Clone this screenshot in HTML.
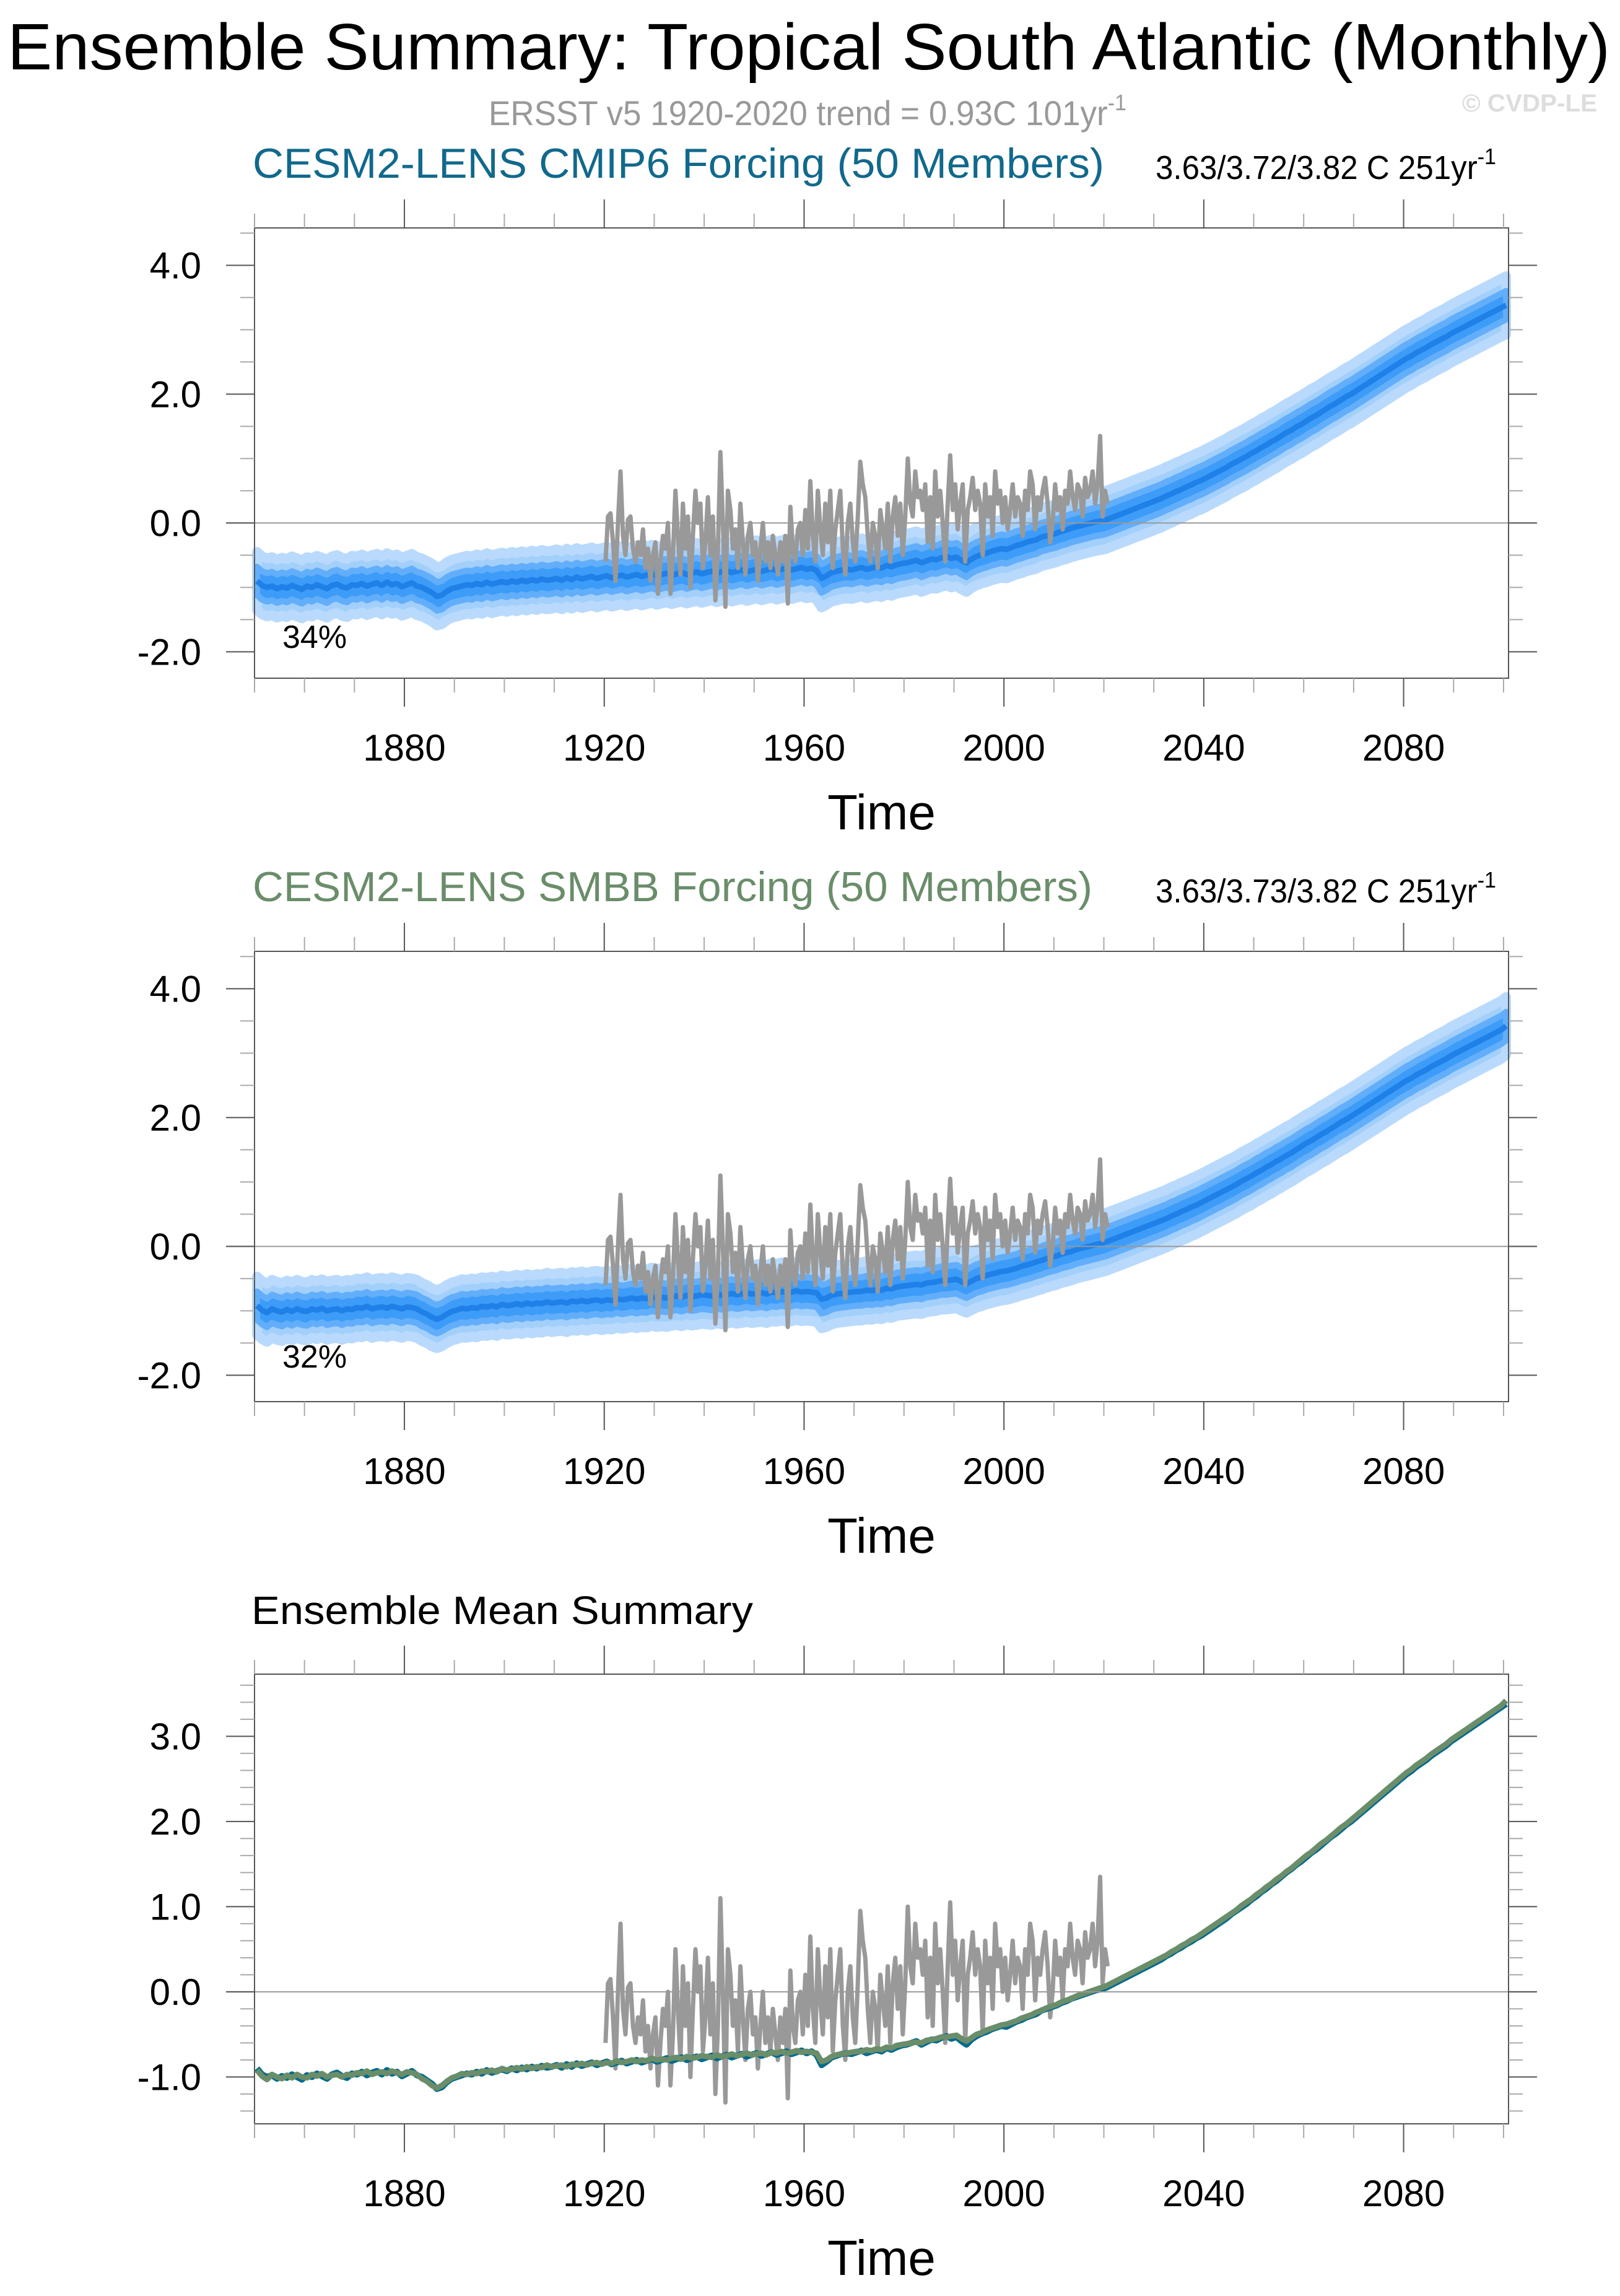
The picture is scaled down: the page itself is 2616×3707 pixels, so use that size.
<!DOCTYPE html>
<html><head><meta charset="utf-8"><style>
html,body{margin:0;padding:0;background:#fff}
svg{display:block}
text{font-family:"Liberation Sans",sans-serif}
</style></head><body>
<svg id="fig" xmlns="http://www.w3.org/2000/svg" width="2616" height="3707" viewBox="0 0 2616 3707">
<rect width="2616" height="3707" fill="#fff"/>
<text x="12" y="112" font-size="106" textLength="2588" lengthAdjust="spacingAndGlyphs">Ensemble Summary: Tropical South Atlantic (Monthly)</text>
<text x="789" y="202" font-size="56" fill="#999" textLength="1030" lengthAdjust="spacingAndGlyphs">ERSST v5 1920-2020 trend = 0.93C 101yr<tspan font-size="36" dy="-24">-1</tspan></text>
<text x="2361" y="180" font-size="40" font-weight="bold" fill="#ddd" textLength="218" lengthAdjust="spacingAndGlyphs">© CVDP-LE</text>
<text x="408" y="287" font-size="68" fill="#11698c" textLength="1375" lengthAdjust="spacingAndGlyphs">CESM2-LENS CMIP6 Forcing (50 Members)</text>
<text x="1866" y="289" font-size="54" textLength="550" lengthAdjust="spacingAndGlyphs">3.63/3.72/3.82 C 251yr<tspan font-size="36" dy="-24">-1</tspan></text>
<text x="408" y="1455" font-size="68" fill="#6a8d6a" textLength="1356" lengthAdjust="spacingAndGlyphs">CESM2-LENS SMBB Forcing (50 Members)</text>
<text x="1866" y="1457" font-size="54" textLength="550" lengthAdjust="spacingAndGlyphs">3.63/3.73/3.82 C 251yr<tspan font-size="36" dy="-24">-1</tspan></text>
<text x="406" y="2622" font-size="64" textLength="810" lengthAdjust="spacingAndGlyphs">Ensemble Mean Summary</text>
<text x="456" y="1046" font-size="52">34%</text>
<text x="456" y="2208" font-size="52">32%</text>
<g id="plots"></g>
</svg>
<script>
const startYear = 1850;
const mean1 = [
-0.90,-0.97,-1.00,-0.98,-1.02,-0.99,-1.01,-0.97,-1.00,-1.03,
-0.98,-1.00,-0.96,-0.99,-1.02,-0.97,-0.95,-0.99,-1.01,-0.96,
-0.97,-0.94,-0.98,-0.95,-0.93,-0.97,-0.92,-0.96,-0.94,-0.99,
-0.96,-0.93,-0.98,-1.00,-1.04,-1.08,-1.14,-1.12,-1.06,-1.02,
-1.00,-0.98,-0.96,-0.97,-0.94,-0.96,-0.92,-0.95,-0.93,-0.91,
-0.93,-0.90,-0.92,-0.89,-0.91,-0.88,-0.90,-0.87,-0.89,-0.88,
-0.86,-0.89,-0.85,-0.88,-0.84,-0.87,-0.85,-0.83,-0.86,-0.84,
-0.82,-0.85,-0.83,-0.81,-0.84,-0.82,-0.80,-0.83,-0.81,-0.79,
-0.82,-0.80,-0.78,-0.81,-0.79,-0.77,-0.80,-0.78,-0.76,-0.79,
-0.77,-0.75,-0.78,-0.76,-0.74,-0.77,-0.75,-0.73,-0.76,-0.74,
-0.72,-0.75,-0.73,-0.71,-0.74,-0.72,-0.70,-0.73,-0.71,-0.69,
-0.72,-0.70,-0.74,-0.86,-0.82,-0.77,-0.75,-0.73,-0.72,-0.73,
-0.71,-0.69,-0.72,-0.70,-0.68,-0.70,-0.66,-0.68,-0.65,-0.63,
-0.62,-0.60,-0.58,-0.62,-0.59,-0.56,-0.57,-0.54,-0.52,-0.55,
-0.53,-0.58,-0.62,-0.56,-0.52,-0.49,-0.47,-0.44,-0.42,-0.40,
-0.41,-0.38,-0.35,-0.33,-0.30,-0.28,-0.26,-0.22,-0.20,-0.18,
-0.16,-0.13,-0.11,-0.08,-0.06,-0.04,-0.02,0.00,0.02,0.03,
0.05,0.08,0.11,0.14,0.17,0.20,0.23,0.26,0.29,0.32,
0.35,0.38,0.42,0.45,0.49,0.52,0.56,0.59,0.63,0.66,
0.70,0.74,0.78,0.82,0.86,0.91,0.95,0.99,1.03,1.08,
1.12,1.17,1.21,1.26,1.30,1.35,1.40,1.44,1.49,1.53,
1.58,1.63,1.67,1.72,1.77,1.82,1.86,1.91,1.96,2.00,
2.05,2.10,2.15,2.20,2.25,2.30,2.35,2.40,2.45,2.50,
2.55,2.59,2.64,2.68,2.72,2.77,2.81,2.85,2.89,2.94,
2.98,3.02,3.06,3.10,3.14,3.18,3.22,3.26,3.30,3.34,
3.38];
const mean2 = [
-0.92,-0.99,-1.03,-0.97,-1.00,-1.02,-0.98,-1.01,-0.97,-1.00,
-1.01,-0.97,-0.99,-0.96,-1.00,-0.98,-0.97,-1.00,-0.97,-0.98,
-0.95,-0.96,-0.93,-0.97,-0.95,-0.94,-0.96,-0.93,-0.95,-0.97,
-0.94,-0.95,-0.97,-1.02,-1.05,-1.10,-1.13,-1.10,-1.05,-1.01,
-0.99,-0.96,-0.97,-0.95,-0.96,-0.93,-0.94,-0.92,-0.94,-0.90,
-0.92,-0.91,-0.89,-0.91,-0.88,-0.90,-0.88,-0.89,-0.86,-0.88,
-0.87,-0.86,-0.88,-0.85,-0.86,-0.84,-0.86,-0.84,-0.83,-0.85,
-0.83,-0.84,-0.81,-0.83,-0.82,-0.80,-0.82,-0.80,-0.81,-0.78,
-0.80,-0.79,-0.80,-0.78,-0.77,-0.79,-0.76,-0.78,-0.77,-0.75,
-0.76,-0.77,-0.74,-0.76,-0.75,-0.73,-0.75,-0.74,-0.72,-0.74,
-0.73,-0.72,-0.74,-0.71,-0.72,-0.70,-0.72,-0.71,-0.69,-0.71,
-0.70,-0.71,-0.72,-0.82,-0.80,-0.76,-0.74,-0.73,-0.72,-0.71,
-0.70,-0.70,-0.68,-0.69,-0.67,-0.68,-0.65,-0.66,-0.63,-0.62,
-0.61,-0.60,-0.59,-0.60,-0.57,-0.56,-0.55,-0.53,-0.53,-0.52,
-0.51,-0.55,-0.58,-0.54,-0.50,-0.48,-0.45,-0.43,-0.41,-0.39,
-0.38,-0.36,-0.34,-0.31,-0.29,-0.27,-0.24,-0.22,-0.19,-0.17,
-0.15,-0.12,-0.10,-0.08,-0.05,-0.03,-0.01,0.01,0.03,0.05,
0.07,0.10,0.13,0.16,0.19,0.22,0.25,0.28,0.31,0.34,
0.37,0.40,0.43,0.47,0.50,0.54,0.57,0.61,0.64,0.68,
0.72,0.76,0.80,0.84,0.88,0.92,0.96,1.01,1.05,1.09,
1.14,1.18,1.23,1.27,1.32,1.36,1.41,1.45,1.50,1.55,
1.60,1.64,1.69,1.74,1.78,1.83,1.88,1.93,1.97,2.02,
2.07,2.12,2.17,2.22,2.27,2.32,2.37,2.42,2.47,2.52,
2.57,2.61,2.66,2.70,2.74,2.79,2.83,2.87,2.91,2.96,
3.00,3.04,3.08,3.12,3.16,3.20,3.24,3.28,3.32,3.36,
3.42];
const obsStart = 1920;
const obs = [
-0.6,0.1, 0.15,-0.3, -0.9,0.0, 0.8,-0.2, -0.5,0.05, 0.1,-0.4, -0.6,-0.3, -0.5,-0.1, -0.7,-0.4, -0.9,-0.5,
-0.3,-1.1, -0.6,-0.2, -0.4,0.0, -1.1,-0.5, 0.5,-0.2, -0.8,0.3, -0.4,0.1, -1.0,-0.2, 0.5,0.0, 0.3,-0.7,
-0.3,0.4, -0.5,0.1, -1.2,-0.4, 1.1,0.0, -1.3,0.5, 0.2,-0.4, -0.1,-0.7, 0.3,-0.3, -0.8,-0.2, 0.0,-0.5,
-0.3,-0.9, -0.4,0.0, -0.6,-0.3, -0.7,-0.2, -0.5,-0.8, -0.3,-0.6, -0.2,-1.25, 0.25,-0.4, -0.6,-0.1, 0.0,-0.5,
0.2,-0.4, 0.65,-0.2, -0.6,0.5, -0.1,-0.5, 0.3,-0.3, 0.5,-0.7, -0.1,0.2, 0.5,-0.4, -0.8,0.0, 0.3,-0.3,
-0.6,0.1, 0.95,0.6, 0.4,-0.2, -0.6,0.0, -0.2,-0.7, 0.2,-0.1, -0.4,0.3, -0.6,0.1, 0.4,-0.2, 0.3,-0.5,
0.1,1.0, 0.3,0.1, 0.8,0.4, 0.5,0.2, 0.6,-0.3, 0.4,-0.4, 0.8,0.1, 0.5,0.0, -0.6,0.3, 1.05,0.2,
0.6,-0.1, 0.3,0.6, -0.6,0.2, 0.4,0.7, 0.2,0.5, 0.3,-0.5, 0.6,0.1, 0.4,-0.2, 0.8,0.3, 0.5,0.0,
0.4,-0.1, 0.2,0.6, 0.1,0.4, 0.3,-0.2, 0.5,0.2, 0.8,0.6, -0.1,0.4, 0.2,0.5, 0.7,0.3, -0.3,0.0,
0.6,0.2, 0.4,-0.1, 0.5,0.3, 0.8,0.4, 0.2,0.6, 0.5,0.1, 0.7,0.4, 0.5,0.8, 0.3,0.6, 1.35,0.1,
0.5,0.3];
const innerSpread = [0.22];
const outerSpread = [0.45];
const xTickYears = [1880,1920,1960,2000,2040,2080];
const yTicksA = [-2,0,2,4];
const yTicksB = [-1,0,1,2,3];

const NS = 'http://www.w3.org/2000/svg';
const root = document.getElementById('plots');
function mk(tag, attrs, parent){ const e=document.createElementNS(NS,tag); for(const k in attrs) e.setAttribute(k,attrs[k]); (parent||root).appendChild(e); return e; }

const X0=411, X1=2436, XMIN=1850, XMAX=2101;
function sx(t){ return X0+(t-XMIN)/(XMAX-XMIN)*(X1-X0); }

function panel(id, top, bottom, ymin, ymax, yTicks, minorStep, draw){
  const g = mk('g',{});
  
  
  const sy = v => bottom-(v-ymin)/(ymax-ymin)*(bottom-top);
  draw(g, sy);
  const z = mk('line',{x1:X0-45,x2:X1+45,y1:sy(0),y2:sy(0),stroke:'#999','stroke-width':2},g);
  
  
  const b = mk('rect',{x:X0,y:top,width:X1-X0,height:bottom-top,fill:'none',stroke:'#555','stroke-width':2},g);
  
  
  for(let yr=1850; yr<=2100; yr+=10){
    const major = xTickYears.includes(yr);
    const L = major?46:23, x=sx(yr);
    mk('line',{x1:x,x2:x,y1:bottom,y2:bottom+L,stroke:major?'#555':'#aaa','stroke-width':2},g);
    mk('line',{x1:x,x2:x,y1:top,y2:top-L,stroke:major?'#555':'#aaa','stroke-width':2},g);
  }
  xTickYears.forEach(yr=>{
    const t = mk('text',{x:sx(yr),y:bottom+133,'font-size':60,'text-anchor':'middle'},g);
    
    
    t.textContent = yr;
  });
  const tt = mk('text',{x:(X0+X1)/2,y:bottom+244,'font-size':80,'text-anchor':'middle'},g);
  
  
  tt.textContent='Time';
  for(let v=Math.ceil(ymin/minorStep)*minorStep; v<=ymax+1e-9; v+=minorStep){
    const vr = Math.round(v*100)/100;
    const major = yTicks.includes(vr);
    const L = major?46:23, y=sy(vr);
    mk('line',{x1:X0,x2:X0-L,y1:y,y2:y,stroke:major?'#555':'#aaa','stroke-width':2},g);
    mk('line',{x1:X1,x2:X1+L,y1:y,y2:y,stroke:major?'#555':'#aaa','stroke-width':2},g);
  }
  yTicks.forEach(v=>{
    const t = mk('text',{x:325,y:sy(v)+21,'font-size':60,'text-anchor':'end'},g);
    
    
    t.textContent = v.toFixed(1);
  });
}

function linePath(arr, t0, step, sy){
  return arr.map((v,i)=>(i?'L':'M')+sx(t0+i*step+step/2).toFixed(1)+','+sy(v).toFixed(1)).join('');
}
function bandPath(arr, w, sy){
  let up = arr.map((v,i)=>(i?'L':'M')+sx(startYear+i+0.5).toFixed(1)+','+sy(v+w).toFixed(1)).join('');
  let dn = arr.map((v,i)=>[i,v]).reverse().map(([i,v])=>'L'+sx(startYear+i+0.5).toFixed(1)+','+sy(v-w).toFixed(1)).join('');
  return up+dn+'Z';
}
function ensemblePanel(g, sy, mean, prefix){
  const o = mk('path',{d:bandPath(mean,outerSpread[0],sy),fill:'#a3cffb',stroke:'#b9dafc','stroke-width':16,'stroke-linejoin':'round'},g);
  
  
  const i = mk('path',{d:bandPath(mean,innerSpread[0],sy),fill:'#3d9cf8',stroke:'#62aefa','stroke-width':10,'stroke-linejoin':'round'},g);
  
  
  const m = mk('path',{d:linePath(mean,startYear,1,sy),fill:'none',stroke:'#1f80e8','stroke-width':9,'stroke-linejoin':'round'},g);
  
  
  const ob = mk('path',{d:linePath(obs,obsStart,0.5,sy),fill:'none',stroke:'#999','stroke-width':7,'stroke-linejoin':'round'},g);
  
  
}

panel('panel1-cmip6', 368, 1095, -2.41, 4.58, yTicksA, 0.5, (g,sy)=>ensemblePanel(g,sy,mean1,'cmip6'));
panel('panel2-smbb', 1536, 2263, -2.41, 4.58, yTicksA, 0.5, (g,sy)=>ensemblePanel(g,sy,mean2,'smbb'));
panel('panel3-ensemble-mean', 2703, 3429, -1.55, 3.73, yTicksB, 0.2, (g,sy)=>{
  const ob = mk('path',{d:linePath(obs,obsStart,0.5,sy),fill:'none',stroke:'#999','stroke-width':7,'stroke-linejoin':'round'},g);
  
  
  const a = mk('path',{d:linePath(mean1,startYear,1,sy),fill:'none',stroke:'#006a8e','stroke-width':10,'stroke-linejoin':'round'},g);
  
  
  const b = mk('path',{d:linePath(mean2,startYear,1,sy),fill:'none',stroke:'#6a8d6a','stroke-width':9,'stroke-linejoin':'round'},g);
  
  
});
</script>
</body></html>
